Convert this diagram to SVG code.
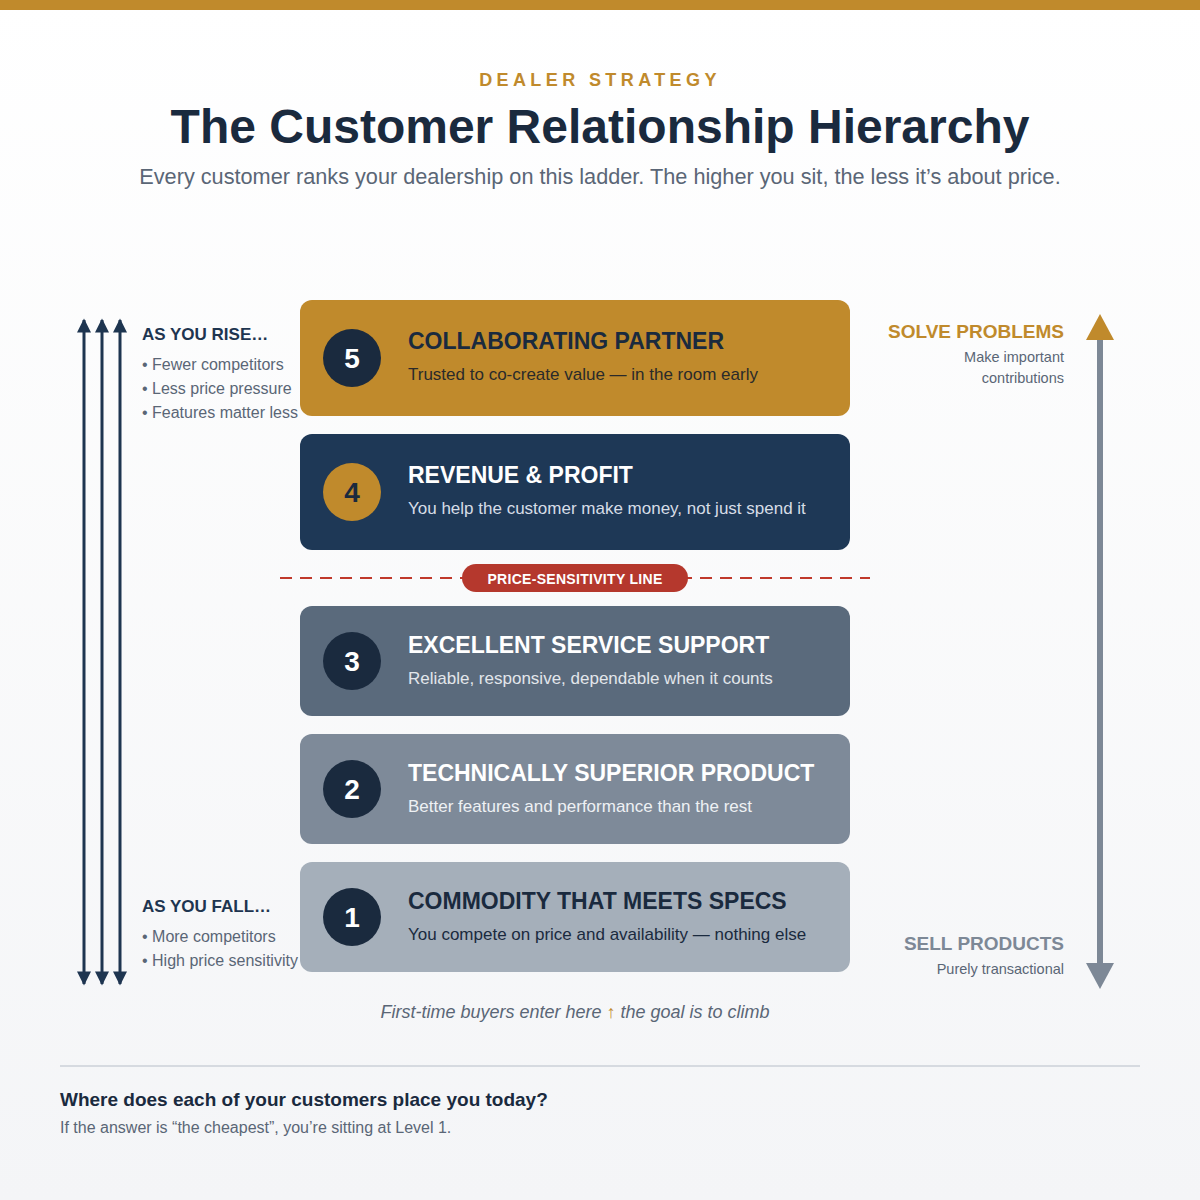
<svg xmlns="http://www.w3.org/2000/svg" width="1200" height="1200" viewBox="0 0 1200 1200">
<defs>
<linearGradient id="bg" x1="0" y1="0" x2="0" y2="1"><stop offset="0" stop-color="#ffffff"/><stop offset="1" stop-color="#f4f5f7"/></linearGradient>
<marker id="au" viewBox="0 0 10 10" refX="9" refY="5" markerWidth="16" markerHeight="14" markerUnits="userSpaceOnUse" orient="auto-start-reverse"><path d="M0,0 L10,5 L0,10 Z" fill="#1e3550"/></marker>
</defs>
<style>
text{font-family:"Liberation Sans",Arial,sans-serif}
.t{font-size:23px;font-weight:bold}
.s{font-size:17px}
.n{font-size:28px;font-weight:bold;fill:#fff}
.b{font-size:16px;fill:#5a6676}
</style>
<rect width="1200" height="1200" fill="url(#bg)"/>
<rect width="1200" height="10" fill="#c08a2c"/>
<text x="600" y="86" text-anchor="middle" font-size="18" font-weight="bold" fill="#c08a2c" letter-spacing="4.4">DEALER STRATEGY</text>
<text x="600" y="143" text-anchor="middle" font-size="48" font-weight="bold" fill="#1a2a3e">The Customer Relationship Hierarchy</text>
<text x="600" y="184" text-anchor="middle" font-size="21.7" fill="#5a6676">Every customer ranks your dealership on this ladder. The higher you sit, the less it’s about price.</text>

<g id="connectors" stroke="#1e3550" stroke-width="3">
<line x1="84" y1="320" x2="84" y2="984" marker-start="url(#au)" marker-end="url(#au)"/>
<line x1="102" y1="320" x2="102" y2="984" marker-start="url(#au)" marker-end="url(#au)"/>
<line x1="120" y1="320" x2="120" y2="984" marker-start="url(#au)" marker-end="url(#au)"/>
<line x1="1100" y1="338" x2="1100" y2="965" stroke="#7d8896" stroke-width="6"/>
<path d="M1086,963 L1100,989 L1114,963 Z" fill="#7d8896" stroke="none"/>
<path d="M1086,340 L1100,314 L1114,340 Z" fill="#c08a2c" stroke="none"/>
<line x1="280" y1="578" x2="870" y2="578" stroke="#c0392b" stroke-width="2" stroke-dasharray="12,8"/>
</g>

<g id="rise">
<text x="142" y="340" font-size="17" font-weight="bold" fill="#1e3550">AS YOU RISE…</text>
<text x="142" y="370" class="b">• Fewer competitors</text>
<text x="142" y="394" class="b">• Less price pressure</text>
<text x="142" y="418" class="b">• Features matter less</text>
</g>
<g id="fall">
<text x="142" y="912" font-size="17" font-weight="bold" fill="#1e3550">AS YOU FALL…</text>
<text x="142" y="942" class="b">• More competitors</text>
<text x="142" y="966" class="b">• High price sensitivity</text>
</g>
<g id="right-top">
<text x="1064" y="338" text-anchor="end" font-size="19" font-weight="bold" fill="#c08a2c">SOLVE PROBLEMS</text>
<text x="1064" y="362" text-anchor="end" font-size="14.5" fill="#5a6676">Make important</text>
<text x="1064" y="383" text-anchor="end" font-size="14.5" fill="#5a6676">contributions</text>
</g>
<g id="right-bottom">
<text x="1064" y="950" text-anchor="end" font-size="19" font-weight="bold" fill="#7d8896">SELL PRODUCTS</text>
<text x="1064" y="974" text-anchor="end" font-size="14.5" fill="#5a6676">Purely transactional</text>
</g>

<g id="level5">
<rect x="300" y="300" width="550" height="116" rx="12" fill="#c08a2c"/>
<circle cx="352" cy="358" r="29" fill="#1a2a3e"/>
<text x="352" y="368" text-anchor="middle" class="n">5</text>
<text x="408" y="349" class="t" fill="#1a2a3e">COLLABORATING PARTNER</text>
<text x="408" y="380" class="s" fill="#2a2a2a">Trusted to co-create value — in the room early</text>
</g>
<g id="level4">
<rect x="300" y="434" width="550" height="116" rx="12" fill="#1e3856"/>
<circle cx="352" cy="492" r="29" fill="#c08a2c"/>
<text x="352" y="502" text-anchor="middle" class="n" style="fill:#1a2a3e">4</text>
<text x="408" y="483" class="t" fill="#ffffff">REVENUE &amp; PROFIT</text>
<text x="408" y="514" class="s" fill="#d6dde6">You help the customer make money, not just spend it</text>
</g>
<g id="price-line">
<rect x="462" y="564" width="226" height="28" rx="14" fill="#b5382d"/>
<text x="575" y="584" text-anchor="middle" font-size="14" font-weight="bold" fill="#fff" letter-spacing="0.3">PRICE-SENSITIVITY LINE</text>
</g>
<g id="level3">
<rect x="300" y="606" width="550" height="110" rx="12" fill="#5a6a7c"/>
<circle cx="352" cy="661" r="29" fill="#1a2a3e"/>
<text x="352" y="671" text-anchor="middle" class="n">3</text>
<text x="408" y="653" class="t" fill="#ffffff">EXCELLENT SERVICE SUPPORT</text>
<text x="408" y="684" class="s" fill="#e2e6eb">Reliable, responsive, dependable when it counts</text>
</g>
<g id="level2">
<rect x="300" y="734" width="550" height="110" rx="12" fill="#7e8a99"/>
<circle cx="352" cy="789" r="29" fill="#1a2a3e"/>
<text x="352" y="799" text-anchor="middle" class="n">2</text>
<text x="408" y="781" class="t" fill="#ffffff">TECHNICALLY SUPERIOR PRODUCT</text>
<text x="408" y="812" class="s" fill="#eef1f4">Better features and performance than the rest</text>
</g>
<g id="level1">
<rect x="300" y="862" width="550" height="110" rx="12" fill="#a5afba"/>
<circle cx="352" cy="917" r="29" fill="#1a2a3e"/>
<text x="352" y="927" text-anchor="middle" class="n">1</text>
<text x="408" y="909" class="t" fill="#1a2a3e">COMMODITY THAT MEETS SPECS</text>
<text x="408" y="940" class="s" fill="#1a2a3e">You compete on price and availability — nothing else</text>
</g>

<text x="575" y="1018" text-anchor="middle" font-size="18" font-style="italic" fill="#5a6676">First-time buyers enter here <tspan fill="#c08a2c">↑</tspan> the goal is to climb</text>
<line x1="60" y1="1066" x2="1140" y2="1066" stroke="#d6dae0" stroke-width="2"/>
<text x="60" y="1106" font-size="19" font-weight="bold" fill="#1a2a3e">Where does each of your customers place you today?</text>
<text x="60" y="1133" font-size="16" fill="#5a6676">If the answer is “the cheapest”, you’re sitting at Level 1.</text>
</svg>
